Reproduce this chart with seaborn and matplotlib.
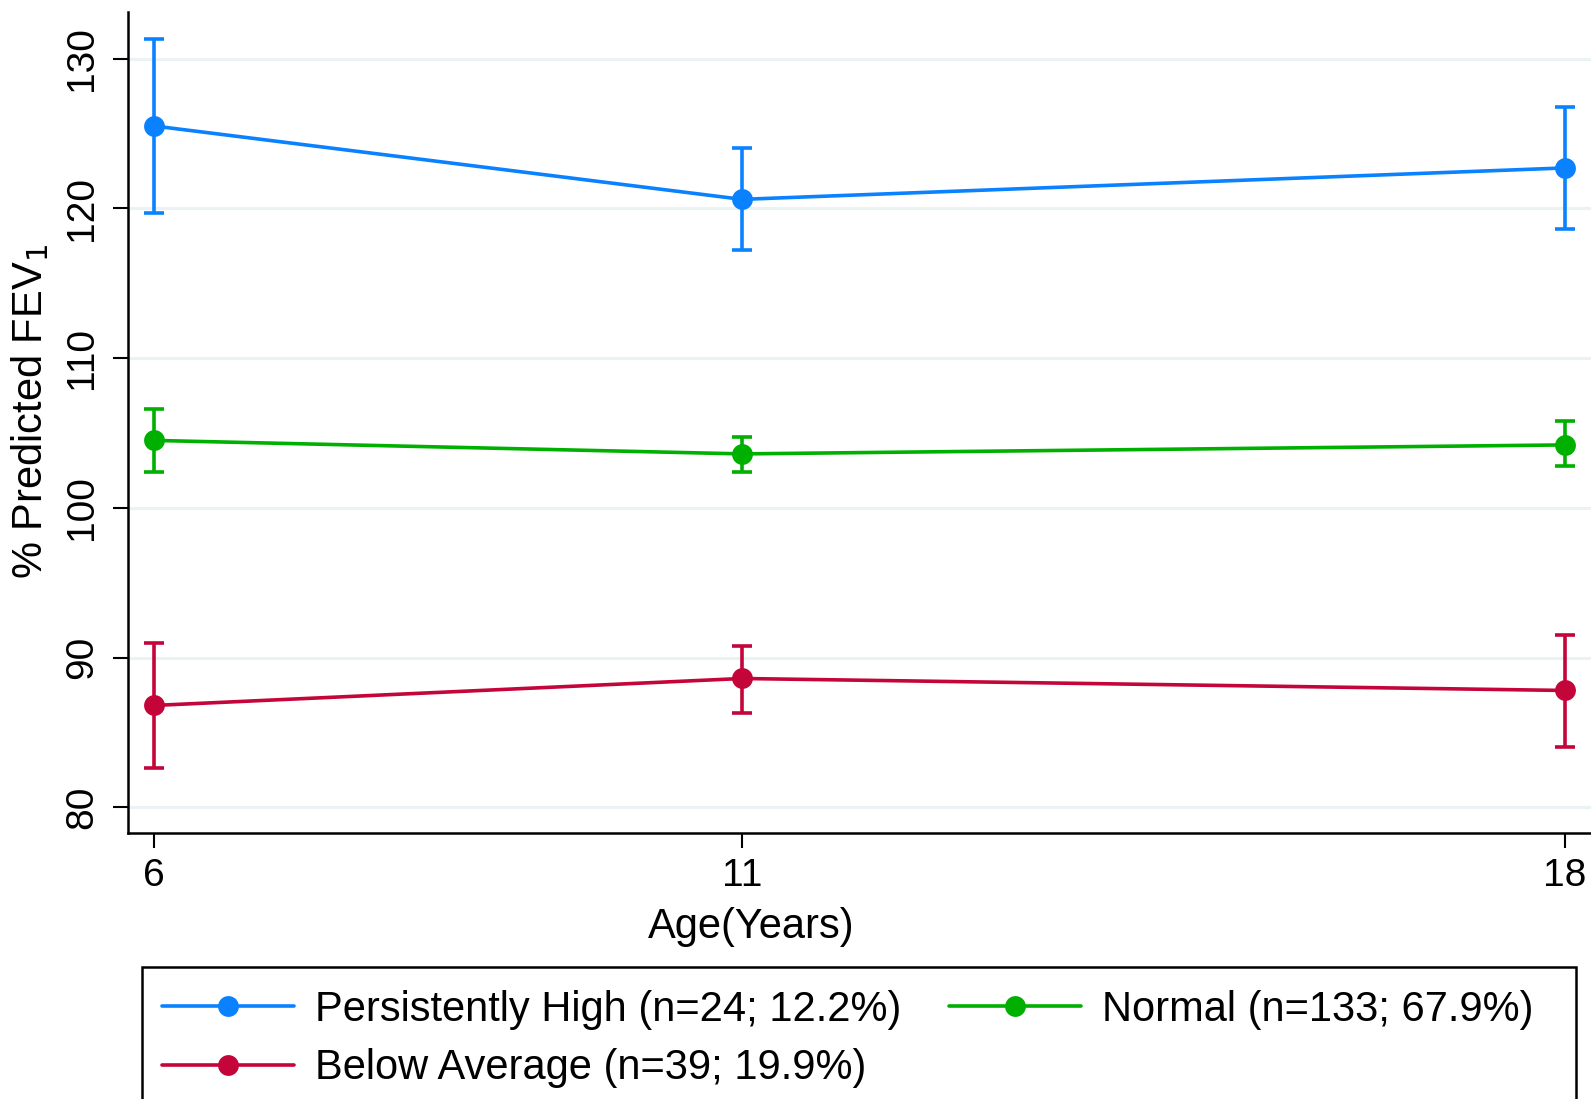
import matplotlib
matplotlib.use('Agg')
import matplotlib.pyplot as plt
from matplotlib.patches import Rectangle
import seaborn as sns
import pandas as pd

# values
ages = [6, 11, 18]
groups = ["Persistently High (n=24; 12.2%)",
          "Below Average (n=39; 19.9%)",
          "Normal (n=133; 67.9%)"]
high_mean = [125.5, 120.6, 122.7]
high_lo = [119.7, 117.2, 118.6]
high_hi = [131.3, 124.0, 126.8]
below_mean = [86.8, 88.6, 87.8]
below_lo = [82.6, 86.3, 84.0]
below_hi = [91.0, 90.8, 91.5]
normal_mean = [104.5, 103.6, 104.2]
normal_lo = [102.4, 102.4, 102.8]
normal_hi = [106.6, 104.7, 105.8]

colors = ["#0a82ff", "#c4053a", "#00b000"]

df = pd.DataFrame({
    "age": ages * 3,
    "fev": high_mean + below_mean + normal_mean,
    "lo": high_lo + below_lo + normal_lo,
    "hi": high_hi + below_hi + normal_hi,
    "group": [groups[0]] * 3 + [groups[1]] * 3 + [groups[2]] * 3,
})

sns.set_style("white")
plt.rcParams['font.family'] = ['Liberation Sans', 'DejaVu Sans']
plt.rcParams['text.color'] = 'black'
plt.rcParams['axes.labelcolor'] = 'black'
plt.rcParams['xtick.color'] = 'black'
plt.rcParams['ytick.color'] = 'black'

fig = plt.figure(figsize=(15.91, 10.99), dpi=100)
ax = fig.add_axes([0.0806, 0.2423, 0.92, 0.7466])

ax.set_ylim(78.3, 133.1)
ax.set_xlim(5.78, 18.23)
ax.set_yticks([80, 90, 100, 110, 120, 130])
ax.set_xticks(ages)
ax.grid(axis='y', color='#eaf2f3', linewidth=2.2, zorder=0)
ax.set_axisbelow(True)

for g, c in zip(groups, colors):
    sub = df[df.group == g]
    ax.errorbar(sub.age, sub.fev, yerr=[sub.fev - sub.lo, sub.hi - sub.fev],
                fmt='none', ecolor=c, elinewidth=2.6, capsize=7.5, capthick=2.6, zorder=2)

sns.lineplot(data=df, x="age", y="fev", hue="group", hue_order=groups,
             palette=colors, marker='o', markersize=15, markeredgewidth=0,
             linewidth=2.6, ax=ax, legend=True, zorder=3)

for side in ['top', 'right']:
    ax.spines[side].set_visible(False)
for side in ['left', 'bottom']:
    ax.spines[side].set_color('black')
    ax.spines[side].set_linewidth(1.8)

ax.tick_params(axis='both', direction='out', length=11, width=1.5, color='black',
               labelsize=28, left=True, bottom=True)
ax.tick_params(axis='x', pad=7)
ax.tick_params(axis='y', pad=9)
for t in ax.get_yticklabels():
    t.set_rotation(90)
    t.set_va('center')

ax.set_xlabel("Age(Years)", fontsize=30)
ax.xaxis.set_label_coords(0.4254, -0.090)
ax.set_ylabel(r"% Predicted FEV$_1$", fontsize=30)
ax.yaxis.set_label_coords(-0.0525, 0.514)

handles, labels = ax.get_legend_handles_labels()
ax.get_legend().remove()
fig.legend(handles, labels, loc='upper left', bbox_to_anchor=(0.1018, 0.0993),
           ncol=2, frameon=False, fontsize=30, handlelength=3.17,
           handletextpad=0.5, columnspacing=1.15, labelspacing=0.44,
           borderpad=0, borderaxespad=0)
fig.patches.append(Rectangle((0.0893, -0.02), 0.901, 0.1401, transform=fig.transFigure,
                             fill=False, edgecolor='black', linewidth=1.8))

fig.savefig("out.png", dpi=100)
